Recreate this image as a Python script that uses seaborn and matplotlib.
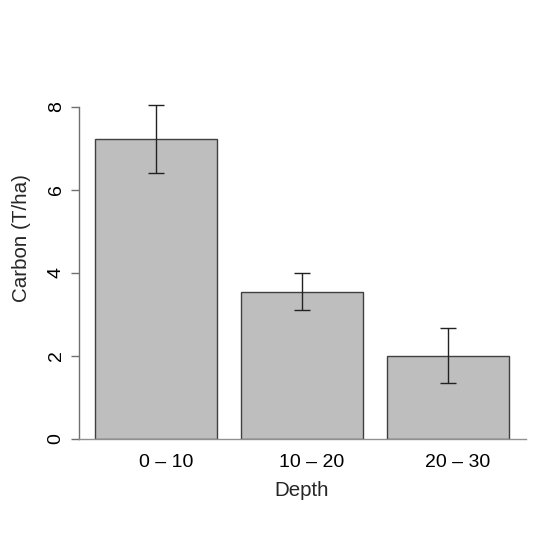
import matplotlib
matplotlib.use('Agg')
import matplotlib.pyplot as plt
import matplotlib.transforms as mtransforms
import seaborn as sns

# Data
depth = ['0 – 10', '10 – 20', '20 – 30']
carbon = [7.23, 3.55, 2.01]
carbon_err = [0.81, 0.44, 0.66]
y_ticks = [0, 2, 4, 6, 8]

sns.set_style('white')
plt.rcParams['font.family'] = ['Liberation Sans', 'DejaVu Sans']

fig = plt.figure(figsize=(5.43, 5.43), dpi=100)
ax = fig.add_axes([79 / 543, 104 / 543, 447 / 543, 344 / 543])

sns.barplot(x=depth, y=carbon, color='#BEBEBE', saturation=1, edgecolor='#404040',
            linewidth=1, width=0.836, errorbar=None, ax=ax)
ax.errorbar(x=range(len(depth)), y=carbon, yerr=carbon_err, fmt='none',
            ecolor='#222222', elinewidth=1, capsize=5.8, capthick=1, clip_on=False)

ax.set_xlim(-0.526, 2.535)
ax.set_ylim(0, 8.289)
ax.set_yticks(y_ticks)

# R style axes: only left axis, baseline in grey
for side in ['top', 'right']:
    ax.spines[side].set_visible(False)
ax.spines['left'].set_bounds(0, 8)
ax.spines['left'].set_color('#707070')
ax.spines['bottom'].set_color('#909090')
ax.spines['left'].set_linewidth(1)
ax.spines['bottom'].set_linewidth(1)

ax.tick_params(axis='y', length=5.8, width=1, color='#707070', pad=4.5,
               labelsize=14, labelcolor='black', left=True)
ax.tick_params(axis='x', length=0, pad=10.5, labelsize=14, labelcolor='black')
for lab in ax.get_yticklabels():
    lab.set_rotation(90)
    lab.set_va('center')

offset = mtransforms.ScaledTranslation(10 / 100, 0, fig.dpi_scale_trans)
for lab in ax.get_xticklabels():
    lab.set_transform(lab.get_transform() + offset)

ax.set_xlabel('Depth', fontsize=14.8, va='center')
ax.set_ylabel('Carbon (T/ha)', fontsize=14.8, va='center')
ax.xaxis.set_label_coords((302 - 79) / 447, (439 - 490) / 344)
ax.yaxis.set_label_coords((21 - 79) / 447, (439 - 238) / 344)

fig.savefig('out.png', dpi=100)
